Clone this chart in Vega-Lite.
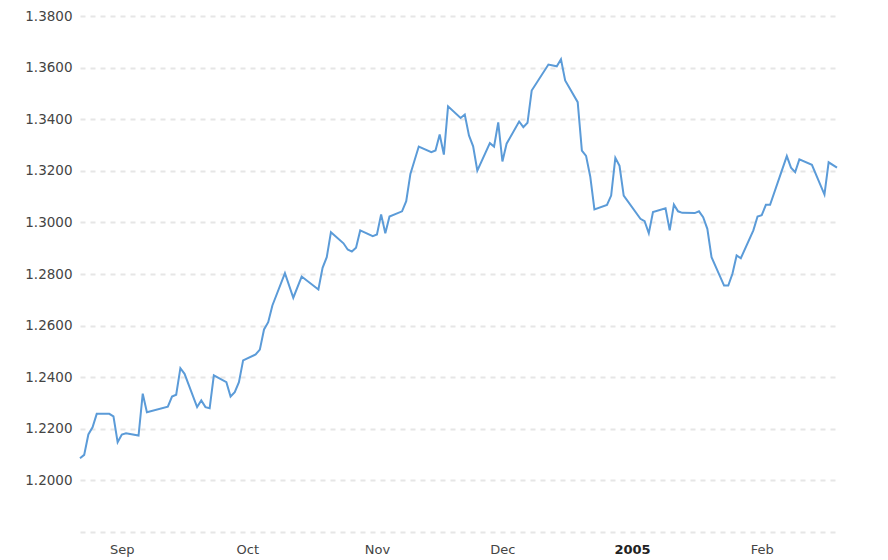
{
  "$schema": "https://vega.github.io/schema/vega-lite/v6.json",
  "autosize": "none",
  "width": 757,
  "height": 516,
  "padding": {"left": 80, "top": 16, "right": 51, "bottom": 28},
  "background": "white",
  "config": {
    "view": {"stroke": null},
    "font": "DejaVu Sans"
  },
  "data": {
    "values": [
      {"date": "2004-08-22", "rate": 1.2086},
      {"date": "2004-08-23", "rate": 1.2099},
      {"date": "2004-08-24", "rate": 1.2178},
      {"date": "2004-08-25", "rate": 1.2206},
      {"date": "2004-08-26", "rate": 1.2258},
      {"date": "2004-08-29", "rate": 1.2258},
      {"date": "2004-08-30", "rate": 1.2248},
      {"date": "2004-08-31", "rate": 1.2148},
      {"date": "2004-09-01", "rate": 1.2178},
      {"date": "2004-09-02", "rate": 1.2183},
      {"date": "2004-09-05", "rate": 1.2174},
      {"date": "2004-09-06", "rate": 1.2336},
      {"date": "2004-09-07", "rate": 1.2264},
      {"date": "2004-09-12", "rate": 1.2286},
      {"date": "2004-09-13", "rate": 1.2325},
      {"date": "2004-09-14", "rate": 1.2332},
      {"date": "2004-09-15", "rate": 1.2435},
      {"date": "2004-09-16", "rate": 1.2413},
      {"date": "2004-09-19", "rate": 1.2284},
      {"date": "2004-09-20", "rate": 1.2310},
      {"date": "2004-09-21", "rate": 1.2284},
      {"date": "2004-09-22", "rate": 1.2280},
      {"date": "2004-09-23", "rate": 1.2407},
      {"date": "2004-09-26", "rate": 1.2381},
      {"date": "2004-09-27", "rate": 1.2325},
      {"date": "2004-09-28", "rate": 1.2342},
      {"date": "2004-09-29", "rate": 1.2381},
      {"date": "2004-09-30", "rate": 1.2465},
      {"date": "2004-10-03", "rate": 1.2488},
      {"date": "2004-10-04", "rate": 1.2507},
      {"date": "2004-10-05", "rate": 1.2585},
      {"date": "2004-10-06", "rate": 1.2613},
      {"date": "2004-10-07", "rate": 1.2678},
      {"date": "2004-10-10", "rate": 1.2803},
      {"date": "2004-10-12", "rate": 1.2708},
      {"date": "2004-10-14", "rate": 1.2790},
      {"date": "2004-10-18", "rate": 1.2740},
      {"date": "2004-10-19", "rate": 1.2824},
      {"date": "2004-10-20", "rate": 1.2865},
      {"date": "2004-10-21", "rate": 1.2962},
      {"date": "2004-10-24", "rate": 1.2919},
      {"date": "2004-10-25", "rate": 1.2895},
      {"date": "2004-10-26", "rate": 1.2887},
      {"date": "2004-10-27", "rate": 1.2902},
      {"date": "2004-10-28", "rate": 1.2969},
      {"date": "2004-10-31", "rate": 1.2947},
      {"date": "2004-11-01", "rate": 1.2953},
      {"date": "2004-11-02", "rate": 1.3031},
      {"date": "2004-11-03", "rate": 1.2958},
      {"date": "2004-11-04", "rate": 1.3023},
      {"date": "2004-11-07", "rate": 1.3043},
      {"date": "2004-11-08", "rate": 1.3082},
      {"date": "2004-11-09", "rate": 1.3188},
      {"date": "2004-11-11", "rate": 1.3294},
      {"date": "2004-11-14", "rate": 1.3272},
      {"date": "2004-11-15", "rate": 1.3279},
      {"date": "2004-11-16", "rate": 1.3341},
      {"date": "2004-11-17", "rate": 1.3263},
      {"date": "2004-11-18", "rate": 1.3450},
      {"date": "2004-11-21", "rate": 1.3405},
      {"date": "2004-11-22", "rate": 1.3418},
      {"date": "2004-11-23", "rate": 1.3337},
      {"date": "2004-11-24", "rate": 1.3295},
      {"date": "2004-11-25", "rate": 1.3201},
      {"date": "2004-11-28", "rate": 1.3307},
      {"date": "2004-11-29", "rate": 1.3294},
      {"date": "2004-11-30", "rate": 1.3388},
      {"date": "2004-12-01", "rate": 1.3236},
      {"date": "2004-12-02", "rate": 1.3305},
      {"date": "2004-12-05", "rate": 1.3391},
      {"date": "2004-12-06", "rate": 1.3369},
      {"date": "2004-12-07", "rate": 1.3386},
      {"date": "2004-12-08", "rate": 1.3511},
      {"date": "2004-12-12", "rate": 1.3612},
      {"date": "2004-12-14", "rate": 1.3605},
      {"date": "2004-12-15", "rate": 1.3632},
      {"date": "2004-12-16", "rate": 1.3550},
      {"date": "2004-12-19", "rate": 1.3466},
      {"date": "2004-12-20", "rate": 1.3278},
      {"date": "2004-12-21", "rate": 1.3258},
      {"date": "2004-12-22", "rate": 1.3178},
      {"date": "2004-12-23", "rate": 1.3050},
      {"date": "2004-12-26", "rate": 1.3068},
      {"date": "2004-12-27", "rate": 1.3104},
      {"date": "2004-12-28", "rate": 1.3250},
      {"date": "2004-12-29", "rate": 1.3219},
      {"date": "2004-12-30", "rate": 1.3104},
      {"date": "2005-01-03", "rate": 1.3014},
      {"date": "2005-01-04", "rate": 1.3005},
      {"date": "2005-01-05", "rate": 1.2958},
      {"date": "2005-01-06", "rate": 1.3040},
      {"date": "2005-01-09", "rate": 1.3055},
      {"date": "2005-01-10", "rate": 1.2969},
      {"date": "2005-01-11", "rate": 1.3069},
      {"date": "2005-01-12", "rate": 1.3043},
      {"date": "2005-01-13", "rate": 1.3037},
      {"date": "2005-01-16", "rate": 1.3036},
      {"date": "2005-01-17", "rate": 1.3043},
      {"date": "2005-01-18", "rate": 1.3020},
      {"date": "2005-01-19", "rate": 1.2975},
      {"date": "2005-01-20", "rate": 1.2865},
      {"date": "2005-01-23", "rate": 1.2755},
      {"date": "2005-01-24", "rate": 1.2755},
      {"date": "2005-01-25", "rate": 1.2801},
      {"date": "2005-01-26", "rate": 1.2872},
      {"date": "2005-01-27", "rate": 1.2861},
      {"date": "2005-01-30", "rate": 1.2969},
      {"date": "2005-01-31", "rate": 1.3023},
      {"date": "2005-02-01", "rate": 1.3028},
      {"date": "2005-02-02", "rate": 1.3068},
      {"date": "2005-02-03", "rate": 1.3068},
      {"date": "2005-02-07", "rate": 1.3257},
      {"date": "2005-02-08", "rate": 1.3212},
      {"date": "2005-02-09", "rate": 1.3195},
      {"date": "2005-02-10", "rate": 1.3244},
      {"date": "2005-02-13", "rate": 1.3223},
      {"date": "2005-02-16", "rate": 1.3108},
      {"date": "2005-02-17", "rate": 1.3233},
      {"date": "2005-02-19", "rate": 1.3212}
    ]
  },
  "mark": {"type": "line", "color": "#5b9bd8", "strokeWidth": 2, "clip": false},
  "encoding": {
    "x": {
      "field": "date",
      "type": "temporal",
      "scale": {
        "type": "utc",
        "domain": [
          {"year": 2004, "month": 8, "date": 22, "utc": true},
          {"year": 2005, "month": 2, "date": 19, "utc": true}
        ]
      },
      "axis": {
        "title": null,
        "grid": false,
        "domain": false,
        "ticks": false,
        "tickCount": {"interval": "month", "step": 1},
        "labelExpr": "utcmonth(datum.value) == 0 ? utcFormat(datum.value, '%Y') : utcFormat(datum.value, '%b')",
        "labelFontWeight": {"condition": {"test": "utcmonth(datum.value) == 0", "value": "bold"}, "value": "normal"},
        "labelFontSize": 13,
        "labelColor": {"condition": {"test": "utcmonth(datum.value) == 0", "value": "#222222"}, "value": "#444444"},
        "labelPadding": 11,
        "labelFlush": false,
        "labelOverlap": false
      }
    },
    "y": {
      "field": "rate",
      "type": "quantitative",
      "scale": {"domain": [1.18, 1.38], "zero": false, "nice": false},
      "axis": {
        "title": null,
        "values": [1.18, 1.2, 1.22, 1.24, 1.26, 1.28, 1.3, 1.32, 1.34, 1.36, 1.38],
        "labelExpr": "datum.value < 1.19 ? '' : format(datum.value, '.4f')",
        "domain": false,
        "ticks": false,
        "grid": true,
        "gridColor": "#e6e6e6",
        "gridWidth": 2,
        "gridDash": [5, 5],
        "labelFontSize": 13.5,
        "labelColor": "#444444",
        "labelPadding": 8
      }
    }
  }
}
